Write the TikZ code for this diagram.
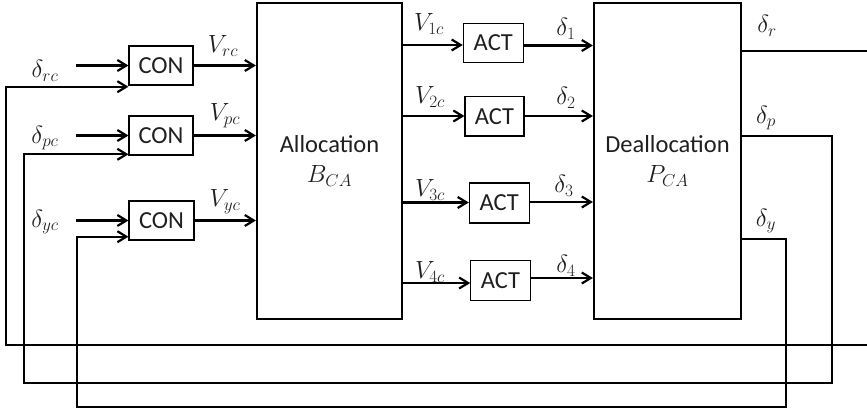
\documentclass[tikz,border=0pt]{standalone}
\usepackage{fontspec}
\setmainfont{Carlito}
\usetikzlibrary{arrows.meta}
\begin{document}
\begin{tikzpicture}[x=1pt,y=-1pt,
  every node/.style={font=\fontsize{24.5}{30}\selectfont, text=black!88},
  blk/.style={draw, line width=2.2pt, inner sep=0pt, align=center},
  smallbox/.style={draw, line width=1.1pt, inner sep=0pt},
  arr/.style={line width=2.2pt, -{Straight Barb[length=9pt,width=11pt]}},
  wire/.style={line width=2.2pt},
  lbl/.style={inner sep=0pt, font=\fontsize{26.5}{30}\selectfont}]
\useasboundingbox (0,0) rectangle (867,412);
\clip (0,0) rectangle (867,412);

% main blocks
\node[blk, minimum width=145pt, minimum height=316pt] (alloc) at (329.5,161) {Allocation\\$B_{CA}$};
\node[blk, minimum width=147pt, minimum height=316pt] (dealloc) at (667.5,161) {Deallocation\\$P_{CA}$};

% controllers
\node[smallbox, minimum width=64pt, minimum height=39pt] (con1) at (161,65.5) {CON};
\node[smallbox, minimum width=64pt, minimum height=39pt] (con2) at (161,135.5) {CON};
\node[smallbox, minimum width=65pt, minimum height=39pt] (con3) at (161.5,220.5) {CON};

% actuators
\node[smallbox, minimum width=60pt, minimum height=39.6pt] (act1) at (493.3,43) {ACT};
\node[smallbox, minimum width=59pt, minimum height=39.3pt] (act2) at (494.5,116.3) {ACT};
\node[smallbox, minimum width=59.7pt, minimum height=40pt] (act3) at (499.2,203) {ACT};
\node[smallbox, minimum width=59.3pt, minimum height=40pt] (act4) at (500.4,280.3) {ACT};

% reference inputs
\coordinate (inr) at (76,65.5);
\coordinate (inp) at (76,135.5);
\coordinate (iny) at (76,220.5);
\draw[arr] (inr) -- (inr -| con1.west);
\draw[arr] (inp) -- (inp -| con2.west);
\draw[arr] (iny) -- (iny -| con3.west);
\node[lbl] (drc) at (45,71) {$\delta_{rc}$};
\node[lbl] (dpc) at (45,138) {$\delta_{pc}$};
\node[lbl] (dyc) at (45,222) {$\delta_{yc}$};

% controller outputs
\draw[arr] (con1.east) -- (con1.east -| alloc.west);
\draw[arr] (con2.east) -- (con2.east -| alloc.west);
\draw[arr] (con3.east) -- (con3.east -| alloc.west);
\node[lbl] (vrc) at (223,46) {$V_{rc}$};
\node[lbl] (vpc) at (225,116) {$V_{pc}$};
\node[lbl] (vyc) at (225,202) {$V_{yc}$};

% allocation to actuators
\coordinate (v1) at (0,45);
\coordinate (v2) at (0,116);
\coordinate (v3) at (0,202.5);
\coordinate (v4) at (0,283);
\draw[arr] (alloc.east |- v1) -- (act1.west |- v1);
\draw[arr] (alloc.east |- v2) -- (act2.west |- v2);
\draw[arr] (alloc.east |- v3) -- (act3.west |- v3);
\draw[arr] (alloc.east |- v4) -- (act4.west |- v4);
\node[lbl] (v1c) at (429,24) {$V_{1c}$};
\node[lbl] (v2c) at (430,97) {$V_{2c}$};
\node[lbl] (v3c) at (430,190) {$V_{3c}$};
\node[lbl] (v4c) at (430,272) {$V_{4c}$};

% actuators to deallocation
\coordinate (d1) at (0,45.5);
\coordinate (d2) at (0,116);
\coordinate (d3) at (0,202);
\coordinate (d4) at (0,278);
\draw[arr] (act1.east |- d1) -- (dealloc.west |- d1);
\draw[arr] (act2.east |- d2) -- (dealloc.west |- d2);
\draw[arr] (act3.east |- d3) -- (dealloc.west |- d3);
\draw[arr] (act4.east |- d4) -- (dealloc.west |- d4);
\node[lbl] (dl1) at (566,29) {$\delta_{1}$};
\node[lbl] (dl2) at (566,98) {$\delta_{2}$};
\node[lbl] (dl3) at (564,186) {$\delta_{3}$};
\node[lbl] (dl4) at (566,266) {$\delta_{4}$};

% outputs and feedback loops
\coordinate (yr) at (0,50.7);
\coordinate (yp) at (0,135.7);
\coordinate (yy) at (0,239);
\coordinate (fr) at (0,86.7);
\coordinate (fp) at (0,154.3);
\coordinate (fy) at (0,236.7);
\node[lbl] (dr) at (767,26) {$\delta_{r}$};
\node[lbl] (dp) at (766,118) {$\delta_{p}$};
\node[lbl] (dy) at (766,221) {$\delta_{y}$};
\draw[arr] (dealloc.east |- yr) -- (890,50.7) -- (890,345) -- (6,345) -- (6,86.7) -- (con1.west |- fr);
\draw[arr] (dealloc.east |- yp) -- (831.7,135.7) -- (831.7,382.7) -- (24.3,382.7) -- (24.3,154.3) -- (con2.west |- fp);
\draw[arr] (dealloc.east |- yy) -- (785.7,239) -- (785.7,407.3) -- (76.7,407.3) -- (76.7,236.7) -- (con3.west |- fy);
\end{tikzpicture}
\end{document}
